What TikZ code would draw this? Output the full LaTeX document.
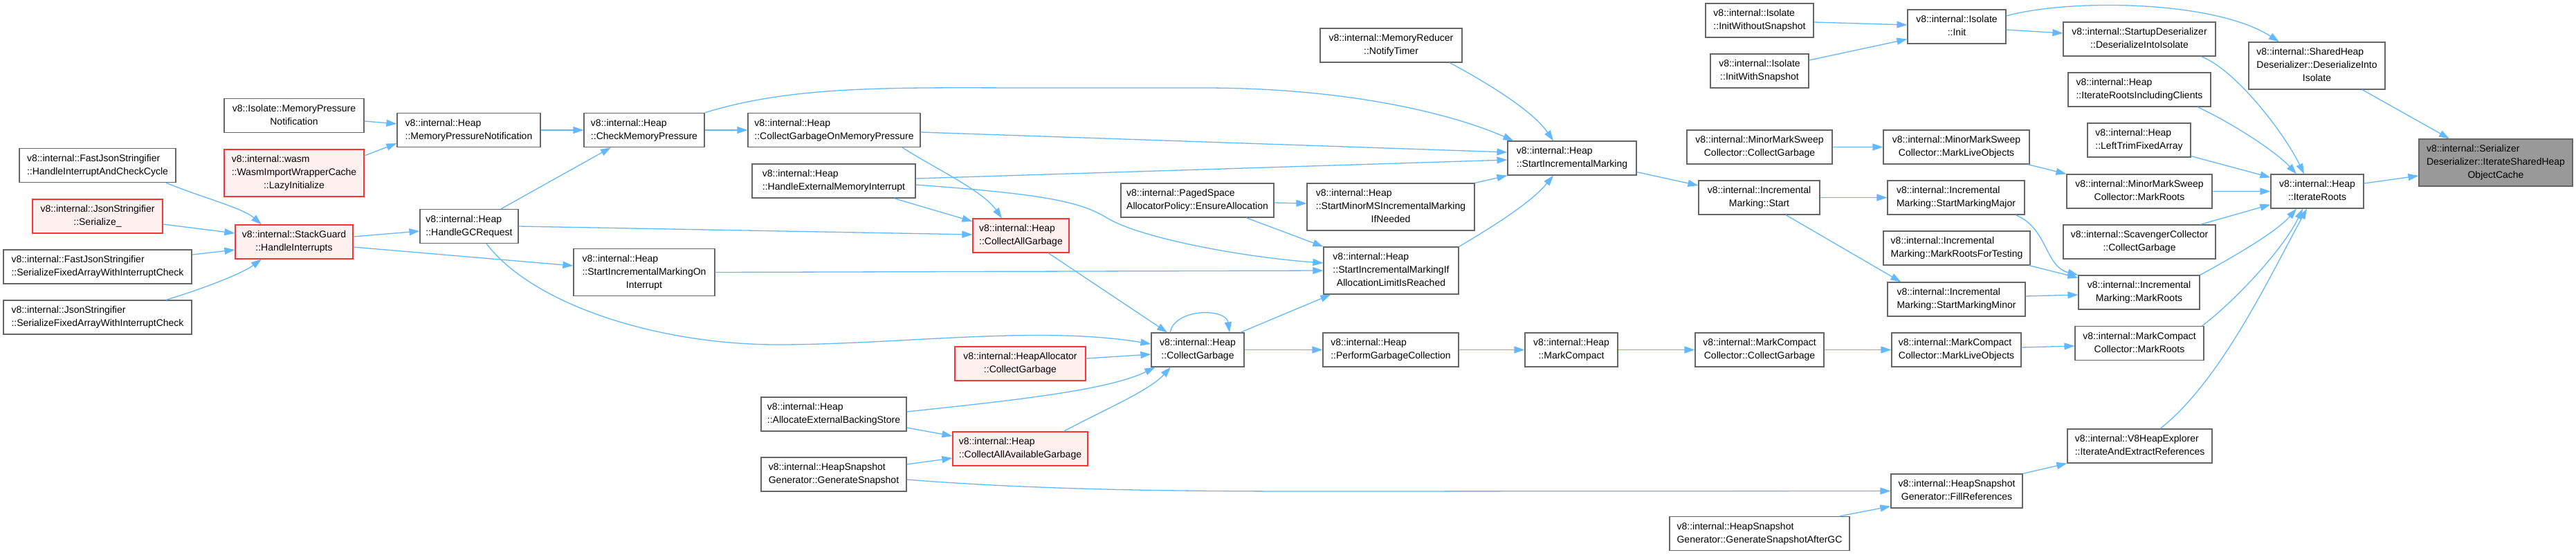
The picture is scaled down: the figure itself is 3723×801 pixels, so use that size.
\documentclass[tikz,border=0pt]{standalone}
\usepackage{fontspec}
\setmainfont{Liberation Sans}
\usetikzlibrary{arrows.meta}
\definecolor{edgec}{HTML}{63B8FF}
\definecolor{bordc}{HTML}{666666}
\definecolor{redb}{HTML}{FF3333}
\definecolor{redf}{HTML}{FFF0F0}
\definecolor{rootf}{HTML}{999999}
\newcommand{\dtwo}[2]{\begin{tabular}{@{}l@{}}#1\\\multicolumn{1}{@{}c@{}}{#2}\end{tabular}}
\newcommand{\dthree}[3]{\begin{tabular}{@{}l@{}}#1\\#2\\\multicolumn{1}{@{}c@{}}{#3}\end{tabular}}
\tikzset{
  box/.style={draw=bordc, line width=1.2pt, fill=white, inner sep=0pt, text=black,
    font=\fontsize{14}{19}\selectfont},
  redbox/.style={box, draw=redb, fill=redf},
  rootbox/.style={box, fill=rootf},
  htwo/.style={minimum height=49},
  hthree/.style={minimum height=68},
  cline/.style={draw=edgec, line width=1.3pt, -{Triangle[length=15pt,width=10pt]}},
}
\begin{document}
\begin{tikzpicture}[x=1pt,y=-1pt]
\useasboundingbox (0,0) rectangle (3723,801);
\fill[white] (0,0) rectangle (3723,801);

% nodes
\node[box,htwo,minimum width=202] (imp) at (425,167) {\dtwo{v8::Isolate::MemoryPressure}{Notification}};
\node[box,htwo,minimum width=207] (hmpn) at (677.5,188) {\dtwo{v8::internal::Heap}{::MemoryPressureNotification}};
\node[box,htwo,minimum width=174] (hcmp) at (931,188) {\dtwo{v8::internal::Heap}{::CheckMemoryPressure}};
\node[box,htwo,minimum width=226] (fjhic) at (141,239) {\dtwo{v8::internal::FastJsonStringifier}{::HandleInterruptAndCheckCycle}};
\node[redbox,hthree,minimum width=202] (wasm) at (425,250) {\dthree{v8::internal::wasm}{::WasmImportWrapperCache}{::LazyInitialize}};
\node[redbox,htwo,minimum width=188] (jser) at (141,312.5) {\dtwo{v8::internal::JsonStringifier}{::Serialize\_}};
\node[redbox,htwo,minimum width=170] (sghi) at (425,349.5) {\dtwo{v8::internal::StackGuard}{::HandleInterrupts}};
\node[box,htwo,minimum width=142] (hgcr) at (678,327) {\dtwo{v8::internal::Heap}{::HandleGCRequest}};
\node[box,htwo,minimum width=272] (fjsf) at (141,385.5) {\dtwo{v8::internal::FastJsonStringifier}{::SerializeFixedArrayWithInterruptCheck}};
\node[box,htwo,minimum width=272] (jsf) at (141,458.5) {\dtwo{v8::internal::JsonStringifier}{::SerializeFixedArrayWithInterruptCheck}};
\node[box,hthree,minimum width=204] (simoi) at (931,393.5) {\dthree{v8::internal::Heap}{::StartIncrementalMarkingOn}{Interrupt}};
\node[box,htwo,minimum width=249] (cgomp) at (1205.5,188) {\dtwo{v8::internal::Heap}{::CollectGarbageOnMemoryPressure}};
\node[box,htwo,minimum width=236] (hemi) at (1205,261.5) {\dtwo{v8::internal::Heap}{::HandleExternalMemoryInterrupt}};
\node[box,htwo,minimum width=221] (ensure) at (1730.5,289.5) {\dtwo{v8::internal::PagedSpace}{AllocatorPolicy::EnsureAllocation}};
\node[redbox,htwo,minimum width=139] (cag) at (1475.5,340.5) {\dtwo{v8::internal::Heap}{::CollectAllGarbage}};
\node[box,htwo,minimum width=134] (cg) at (1731,505.5) {\dtwo{v8::internal::Heap}{::CollectGarbage}};
\node[redbox,htwo,minimum width=189] (hacg) at (1474.5,525.5) {\dtwo{v8::internal::HeapAllocator}{::CollectGarbage}};
\node[box,htwo,minimum width=210] (aebs) at (1205,598.5) {\dtwo{v8::internal::Heap}{::AllocateExternalBackingStore}};
\node[redbox,htwo,minimum width=195] (caag) at (1474.5,648.5) {\dtwo{v8::internal::Heap}{::CollectAllAvailableGarbage}};
\node[box,htwo,minimum width=210] (hsgg) at (1205,685.5) {\dtwo{v8::internal::HeapSnapshot}{Generator::GenerateSnapshot}};
\node[box,htwo,minimum width=205] (mrnt) at (2010.5,65.5) {\dtwo{v8::internal::MemoryReducer}{::NotifyTimer}};
\node[box,htwo,minimum width=186] (sim) at (2272,228.5) {\dtwo{v8::internal::Heap}{::StartIncrementalMarking}};
\node[box,hthree,minimum width=242] (simms) at (2010,299) {\dthree{v8::internal::Heap}{::StartMinorMSIncrementalMarking}{IfNeeded}};
\node[box,hthree,minimum width=195] (simialr) at (2010.5,391) {\dthree{v8::internal::Heap}{::StartIncrementalMarkingIf}{AllocationLimitIsReached}};
\node[box,htwo,minimum width=156] (initwo) at (2543,29.5) {\dtwo{v8::internal::Isolate}{::InitWithoutSnapshot}};
\node[box,htwo,minimum width=142] (initws) at (2543,102.5) {\dtwo{v8::internal::Isolate}{::InitWithSnapshot}};
\node[box,htwo,minimum width=142] (init) at (2828,38.5) {\dtwo{v8::internal::Isolate}{::Init}};
\node[box,htwo,minimum width=210] (mmscg) at (2543,212.5) {\dtwo{v8::internal::MinorMarkSweep}{Collector::CollectGarbage}};
\node[box,htwo,minimum width=175] (imstart) at (2542.5,285.5) {\dtwo{v8::internal::Incremental}{Marking::Start}};
\node[box,htwo,minimum width=211] (mmsmlo) at (2827.5,212.5) {\dtwo{v8::internal::MinorMarkSweep}{Collector::MarkLiveObjects}};
\node[box,htwo,minimum width=198] (smmaj) at (2827,285.5) {\dtwo{v8::internal::Incremental}{Marking::StartMarkingMajor}};
\node[box,htwo,minimum width=212] (mrft) at (2828,358.5) {\dtwo{v8::internal::Incremental}{Marking::MarkRootsForTesting}};
\node[box,htwo,minimum width=199] (smmin) at (2827.5,432.5) {\dtwo{v8::internal::Incremental}{Marking::StartMarkingMinor}};
\node[box,htwo,minimum width=196] (pgc) at (2010,505.5) {\dtwo{v8::internal::Heap}{::PerformGarbageCollection}};
\node[box,htwo,minimum width=134] (mc) at (2271,505.5) {\dtwo{v8::internal::Heap}{::MarkCompact}};
\node[box,htwo,minimum width=186] (mcccg) at (2543,505.5) {\dtwo{v8::internal::MarkCompact}{Collector::CollectGarbage}};
\node[box,htwo,minimum width=187] (mccmlo) at (2827.5,505.5) {\dtwo{v8::internal::MarkCompact}{Collector::MarkLiveObjects}};
\node[box,htwo,minimum width=190] (fillref) at (2828,709.5) {\dtwo{v8::internal::HeapSnapshot}{Generator::FillReferences}};
\node[box,htwo,minimum width=260] (gsagc) at (2543,771) {\dtwo{v8::internal::HeapSnapshot}{Generator::GenerateSnapshotAfterGC}};
\node[box,htwo,minimum width=220] (sdii) at (3092,56.5) {\dtwo{v8::internal::StartupDeserializer}{::DeserializeIntoIsolate}};
\node[box,hthree,minimum width=197] (shdii) at (3348.5,95) {\dthree{v8::internal::SharedHeap}{Deserializer::DeserializeInto}{Isolate}};
\node[box,htwo,minimum width=206] (irinc) at (3092,129.5) {\dtwo{v8::internal::Heap}{::IterateRootsIncludingClients}};
\node[box,htwo,minimum width=149] (ltfa) at (3091.5,202.5) {\dtwo{v8::internal::Heap}{::LeftTrimFixedArray}};
\node[rootbox,hthree,minimum width=222] (target) at (3607,235) {\dthree{v8::internal::Serializer}{Deserializer::IterateSharedHeap}{ObjectCache}};
\node[box,htwo,minimum width=210] (mmsmr) at (3092,276.5) {\dtwo{v8::internal::MinorMarkSweep}{Collector::MarkRoots}};
\node[box,htwo,minimum width=134] (ir) at (3349,276.5) {\dtwo{v8::internal::Heap}{::IterateRoots}};
\node[box,htwo,minimum width=220] (scg) at (3092,349.5) {\dtwo{v8::internal::ScavengerCollector}{::CollectGarbage}};
\node[box,htwo,minimum width=175] (immr) at (3091.5,422.5) {\dtwo{v8::internal::Incremental}{Marking::MarkRoots}};
\node[box,htwo,minimum width=186] (mccmr) at (3092,496) {\dtwo{v8::internal::MarkCompact}{Collector::MarkRoots}};
\node[box,htwo,minimum width=209] (v8he) at (3092.5,644.5) {\dtwo{v8::internal::V8HeapExplorer}{::IterateAndExtractReferences}};

% connectors
\draw[cline] ([yshift=-8pt]imp.east) -- ([yshift=9pt]hmpn.west);
\draw[cline] ([yshift=25pt]wasm.east) -- ([yshift=6pt]hmpn.south west);
\draw[cline] (hmpn.east) -- (hcmp.west);
\draw[cline] ([xshift=46pt]hgcr.north) -- ([xshift=-48pt]hcmp.south);
\draw[cline] ([xshift=99pt]fjhic.south) .. controls (290,285) and (350,300) .. ([xshift=-47pt]sghi.north);
\draw[cline] ([yshift=-11.5pt]jser.east) -- ([yshift=12.5pt]sghi.west);
\draw[cline] ([yshift=17.5pt]fjsf.east) -- ([yshift=-11.5pt]sghi.west);
\draw[cline] ([xshift=99pt]jsf.north) .. controls (300,415) and (350,395) .. ([xshift=-47pt]sghi.south);
\draw[cline] ([yshift=7.5pt]sghi.east) -- ([yshift=-7pt]hgcr.west);
\draw[cline] ([yshift=-7.5pt]sghi.east) -- ([yshift=9.5pt]simoi.west);
\draw[cline] (hgcr.east) -- ([yshift=1.5pt]cag.west);
\draw[cline] ([xshift=25pt]hgcr.south) .. controls (770,440) and (950,498) .. (1124,498) .. controls (1300,498) and (1500,470) .. ([yshift=8.5pt]cg.west);
\draw[cline] (hcmp.east) -- (cgomp.west);
\draw[cline] (hcmp.north east) .. controls (1150,122) and (1300,127) .. (1500,127) -- (1740,127) .. controls (1950,127) and (2100,165) .. ([xshift=9pt]sim.north west);
\draw[cline] ([yshift=-3pt]cgomp.east) -- ([yshift=8.5pt]sim.west);
\draw[cline] ([xshift=98.5pt]cgomp.south) .. controls (1345,240) and (1420,275) .. ([xshift=-27.5pt]cag.north);
\draw[cline] ([yshift=3.5pt]hemi.east) -- ([yshift=-2.5pt]sim.west);
\draw[cline] ([xshift=87pt]hemi.south) -- ([yshift=20.5pt]cag.west);
\draw[cline] ([yshift=-5.5pt]hemi.east) .. controls (1500,280) and (1560,290) .. (1600,315) .. controls (1650,345) and (1800,372) .. ([yshift=11pt]simialr.west);
\draw[cline] (simoi.east) -- (simialr.west);
\draw[cline] ([xshift=84.5pt]mrnt.south) .. controls (2150,120) and (2215,160) .. ([xshift=-27pt]sim.north);
\draw[cline] (simms.north east) -- (sim.south west);
\draw[cline] (simialr.north east) .. controls (2170,320) and (2215,290) .. ([xshift=-27pt]sim.south);
\draw[cline] ([yshift=-3.5pt]ensure.east) -- ([yshift=5pt]simms.west);
\draw[cline] ([xshift=70.5pt]ensure.south) -- (simialr.north west);
\draw[cline] ([xshift=39.5pt]cag.south) -- ([xshift=-44pt]cg.north);
\draw[cline] ([xshift=-40pt]cg.north) .. controls (1698,445) and (1772,445) .. ([xshift=46pt]cg.north);
\draw[cline] ([xshift=-6pt]cg.north east) -- ([xshift=11pt]simialr.south west);
\draw[cline] (cg.east) -- (pgc.west);
\draw[cline] ([yshift=7.5pt]hacg.east) -- ([yshift=-6.5pt]cg.west);
\draw[cline] ([yshift=3.5pt]aebs.east) .. controls (1450,580) and (1600,565) .. ([xshift=6pt]cg.south west);
\draw[cline] ([yshift=-19.5pt]aebs.east) -- ([yshift=18.5pt]caag.west);
\draw[cline] ([xshift=62.5pt]caag.north) .. controls (1600,590) and (1660,565) .. ([xshift=-39pt]cg.south);
\draw[cline] ([yshift=14.5pt]hsgg.east) -- ([yshift=-13.5pt]caag.west);
\draw[cline] ([yshift=-7.5pt]hsgg.east) .. controls (1500,708) and (1700,710) .. (1900,710) -- (fillref.west);
\draw[cline] ([xshift=-15pt]gsagc.north east) -- ([yshift=3pt]fillref.south west);
\draw[cline] (fillref.north east) -- (v8he.south west);
\draw[cline] ([xshift=29.5pt]v8he.north) .. controls (3210,550) and (3280,400) .. ([xshift=-15pt]ir.south);
\draw[cline] (pgc.east) -- (mc.west);
\draw[cline] (mc.east) -- (mcccg.west);
\draw[cline] (mcccg.east) -- (mccmlo.west);
\draw[cline] ([yshift=3.5pt]mccmlo.east) -- ([yshift=-4pt]mccmr.west);
\draw[cline] ([xshift=-3pt]mccmr.north east) .. controls (3230,435) and (3300,360) .. ([xshift=-21pt]ir.south);
\draw[cline] ([yshift=5pt]sim.south east) -- ([yshift=17.5pt]imstart.west);
\draw[cline] (mmscg.east) -- (mmsmlo.west);
\draw[cline] (imstart.east) -- (smmaj.west);
\draw[cline] ([xshift=38.5pt]imstart.south) -- ([xshift=20pt]smmin.north west);
\draw[cline] ([xshift=-3pt]mmsmlo.south east) -- (mmsmr.north west);
\draw[cline] ([xshift=86pt]smmaj.south) .. controls (2960,330) and (2955,385) .. (immr.north west);
\draw[cline] ([xshift=-2pt]mrft.south east) -- ([yshift=-4pt]immr.north west);
\draw[cline] ([yshift=4.5pt]smmin.east) -- ([yshift=-3.5pt]immr.west);
\draw[cline] (mmsmr.east) -- (ir.west);
\draw[cline] ([xshift=88pt]scg.north) -- ([yshift=6pt]ir.south west);
\draw[cline] (immr.north east) .. controls (3230,370) and (3290,335) .. ([xshift=-30pt]ir.south);
\draw[cline] ([xshift=84pt]irinc.south) .. controls (3230,180) and (3290,220) .. ([xshift=-30pt]ir.north);
\draw[cline] ([yshift=2pt]ltfa.south east) -- ([yshift=-5pt]ir.north west);
\draw[cline] ([xshift=89pt]sdii.south) .. controls (3230,100) and (3300,190) .. ([xshift=-19pt]ir.north);
\draw[cline] ([yshift=-4.5pt]init.east) -- ([yshift=8.5pt]sdii.west);
\draw[cline] ([yshift=15.5pt]init.east) .. controls (2990,-2) and (3200,0) .. ([xshift=-54.5pt]shdii.north);
\draw[cline] ([yshift=-2.5pt]initwo.east) -- ([yshift=2.5pt]init.west);
\draw[cline] ([yshift=15.5pt]initws.east) -- ([yshift=7pt]init.south west);
\draw[cline] ([xshift=65.5pt]shdii.south) -- ([xshift=-67pt]target.north);
\draw[cline] ([yshift=11.5pt]ir.east) -- ([yshift=-19pt]target.west);
\end{tikzpicture}
\end{document}
